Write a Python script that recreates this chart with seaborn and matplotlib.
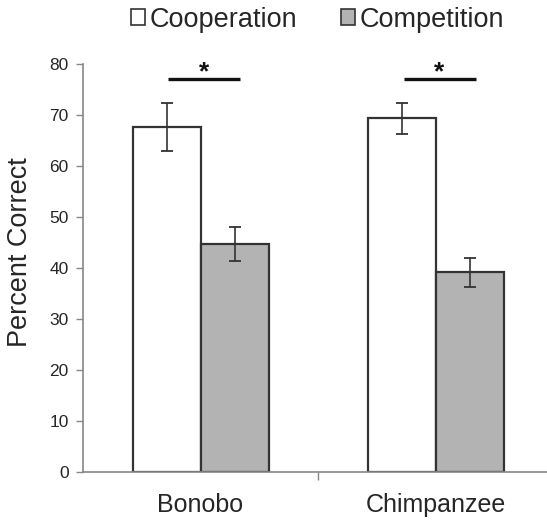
import matplotlib
matplotlib.use("Agg")
import matplotlib.pyplot as plt
import seaborn as sns
import pandas as pd
from matplotlib.patches import Patch

# data
species = ["Bonobo", "Chimpanzee"]
conditions = ["Cooperation", "Competition"]
means = {"Cooperation": [67.7, 69.4], "Competition": [44.7, 39.2]}
errors = {"Cooperation": [4.75, 3.05], "Competition": [3.3, 2.8]}
sig_level = 77.0

colors = {"Cooperation": "#ffffff", "Competition": "#b3b3b3"}

rows = []
for cond in conditions:
    for i, sp in enumerate(species):
        rows.append({"Species": sp, "Condition": cond,
                     "Percent": means[cond][i], "Err": errors[cond][i]})
df = pd.DataFrame(rows)

sns.set_style("white")
plt.rcParams["font.family"] = ["Liberation Sans", "DejaVu Sans"]

fig = plt.figure(figsize=(5.47, 5.21), dpi=100)
ax = fig.add_axes([0.1512, 0.0935, 0.8617, 0.7837])

sns.barplot(data=df, x="Species", y="Percent", hue="Condition",
            hue_order=conditions, order=species, palette=colors,
            width=0.577, edgecolor="#333333", linewidth=1.6,
            errorbar=None, legend=False, ax=ax)

# error bars from bar centres
for cont, cond in zip(ax.containers, conditions):
    for bar, err in zip(cont, errors[cond]):
        cx = bar.get_x() + bar.get_width() / 2
        ax.errorbar(cx, bar.get_height(), yerr=err, fmt="none",
                    ecolor="#333333", elinewidth=1.2, capsize=4, capthick=1.3)

# significance lines above each species
for i, sp in enumerate(species):
    ax.plot([i - 0.136, i + 0.168], [sig_level, sig_level], color="#111111",
            lw=2.4, solid_capstyle="butt")
    ax.text(i + 0.013, sig_level - 0.9, "*", ha="center", va="bottom",
            fontsize=19, fontweight="bold", color="#111111")

ax.set_ylim(0, 80)
ax.set_xlim(-0.5, 1.5)
ax.set_yticks(range(0, 81, 10))
ax.set_ylabel("Percent Correct", fontsize=19.5)
ax.yaxis.set_label_coords(-0.105, 0.538)
ax.set_xlabel("")
ax.tick_params(axis="y", labelsize=12.5, length=5, width=1, color="#888888",
               direction="out", left=True, pad=5)
ax.tick_params(axis="x", labelsize=18, length=0, pad=15)
ax.set_xticks([0.5], minor=True)
ax.tick_params(axis="x", which="minor", length=6, width=1, color="#888888",
               direction="out", bottom=True)

for s in ["top", "right"]:
    ax.spines[s].set_visible(False)
for s in ["left", "bottom"]:
    ax.spines[s].set_color("#888888")
    ax.spines[s].set_linewidth(1.2)

handles = [Patch(facecolor=colors[c], edgecolor="#333333", linewidth=1.2)
           for c in conditions]
fig.legend(handles, conditions, loc="center", bbox_to_anchor=(0.581, 0.962),
           ncol=2, frameon=False, fontsize=19.5, handlelength=0.5,
           handleheight=0.5, handletextpad=0.2, columnspacing=1.6,
           borderpad=0)

fig.savefig("out.png", dpi=100)
